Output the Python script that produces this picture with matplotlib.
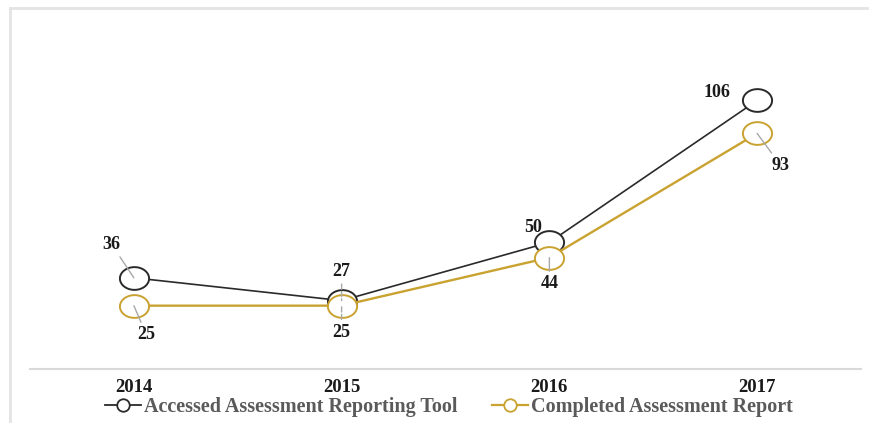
import numpy as np
import matplotlib.pyplot as plt
from matplotlib.path import Path
from matplotlib.lines import Line2D

years = ["2014", "2015", "2016", "2017"]
accessed = [36, 27, 50, 106]
completed = [25, 25, 44, 93]

# label offsets (points) and leader line style for each value
acc_offsets = [(-16, 24), (0, 21), (-12, 11), (-29, 6)]
acc_leader = [True, "dash", False, False]
comp_offsets = [(9, -21), (0, -19), (0, -19), (17, -23)]
comp_leader = [True, "dash", True, True]

BLACK = "#2a2a2a"
GOLD = "#c9a230"
LEADER = "#a8a8a8"

plt.rcParams["font.family"] = ["Liberation Serif", "DejaVu Serif"]

# slightly flattened circle used as the marker
t = np.linspace(0, 2 * np.pi, 60)
ellipse = Path(np.column_stack([np.cos(t), 0.78 * np.sin(t)]), closed=True)

fig = plt.figure(figsize=(8.69, 4.23), dpi=100)
W, H = 869, 423
ax = fig.add_axes([30 / W, (H - 369) / H, (861 - 30) / W, (369 - 65) / H])

x = np.arange(len(years))
ax.plot(x, accessed, color=BLACK, lw=1.2, marker=ellipse, ms=21, mfc="white",
        mec=BLACK, mew=1.4, zorder=3, clip_on=False)
ax.plot(x, completed, color=GOLD, lw=1.7, marker=ellipse, ms=21, mfc="white",
        mec=GOLD, mew=1.4, zorder=4, clip_on=False)


def add_labels(vals, offsets, leaders):
    for xi, v, off, ld in zip(x, vals, offsets, leaders):
        arrow = None
        if ld:
            arrow = dict(arrowstyle="-", color=LEADER, lw=1.0, shrinkA=1, shrinkB=0,
                         linestyle="--" if ld == "dash" else "-")
        ax.annotate(str(v), xy=(xi, v), xytext=off, textcoords="offset points",
                    ha="center", va="center", fontsize=13, fontweight="bold",
                    color="#1a1a1a", arrowprops=arrow, zorder=5)


add_labels(accessed, acc_offsets, acc_leader)
add_labels(completed, comp_offsets, comp_leader)

ax.set_xlim(-0.5, 3.5)
ax.set_ylim(0, 120)
ax.set_xticks(x)
ax.set_xticklabels(years, fontsize=13.5, fontweight="bold", color="#1a1a1a")
ax.tick_params(axis="x", length=0, pad=7)
ax.set_yticks([])
for s in ["top", "right", "left"]:
    ax.spines[s].set_visible(False)
ax.spines["bottom"].set_color("#d9d9d9")
ax.spines["bottom"].set_linewidth(1.5)

handles = [
    Line2D([], [], color=BLACK, lw=1.3, marker="o", ms=9, mfc="white", mec=BLACK, mew=1.3),
    Line2D([], [], color=GOLD, lw=1.6, marker="o", ms=9, mfc="white", mec=GOLD, mew=1.3),
]
fig.legend(handles, ["Accessed Assessment Reporting Tool", "Completed Assessment Report"],
           loc="center", bbox_to_anchor=(449 / W, (H - 407) / H), ncol=2, frameon=False,
           borderpad=0.2, handlelength=1.8, handletextpad=0.15, columnspacing=1.7,
           prop=dict(size=14.5, weight="bold"), labelcolor="#5a5a5a")

# light frame around the chart
fig.add_artist(Line2D([10 / W, 10 / W], [0, (H - 8) / H], color="#e4e4e4", lw=2))
fig.add_artist(Line2D([10 / W, 1], [(H - 8) / H, (H - 8) / H], color="#e4e4e4", lw=2))

fig.savefig("out.png", dpi=100)
